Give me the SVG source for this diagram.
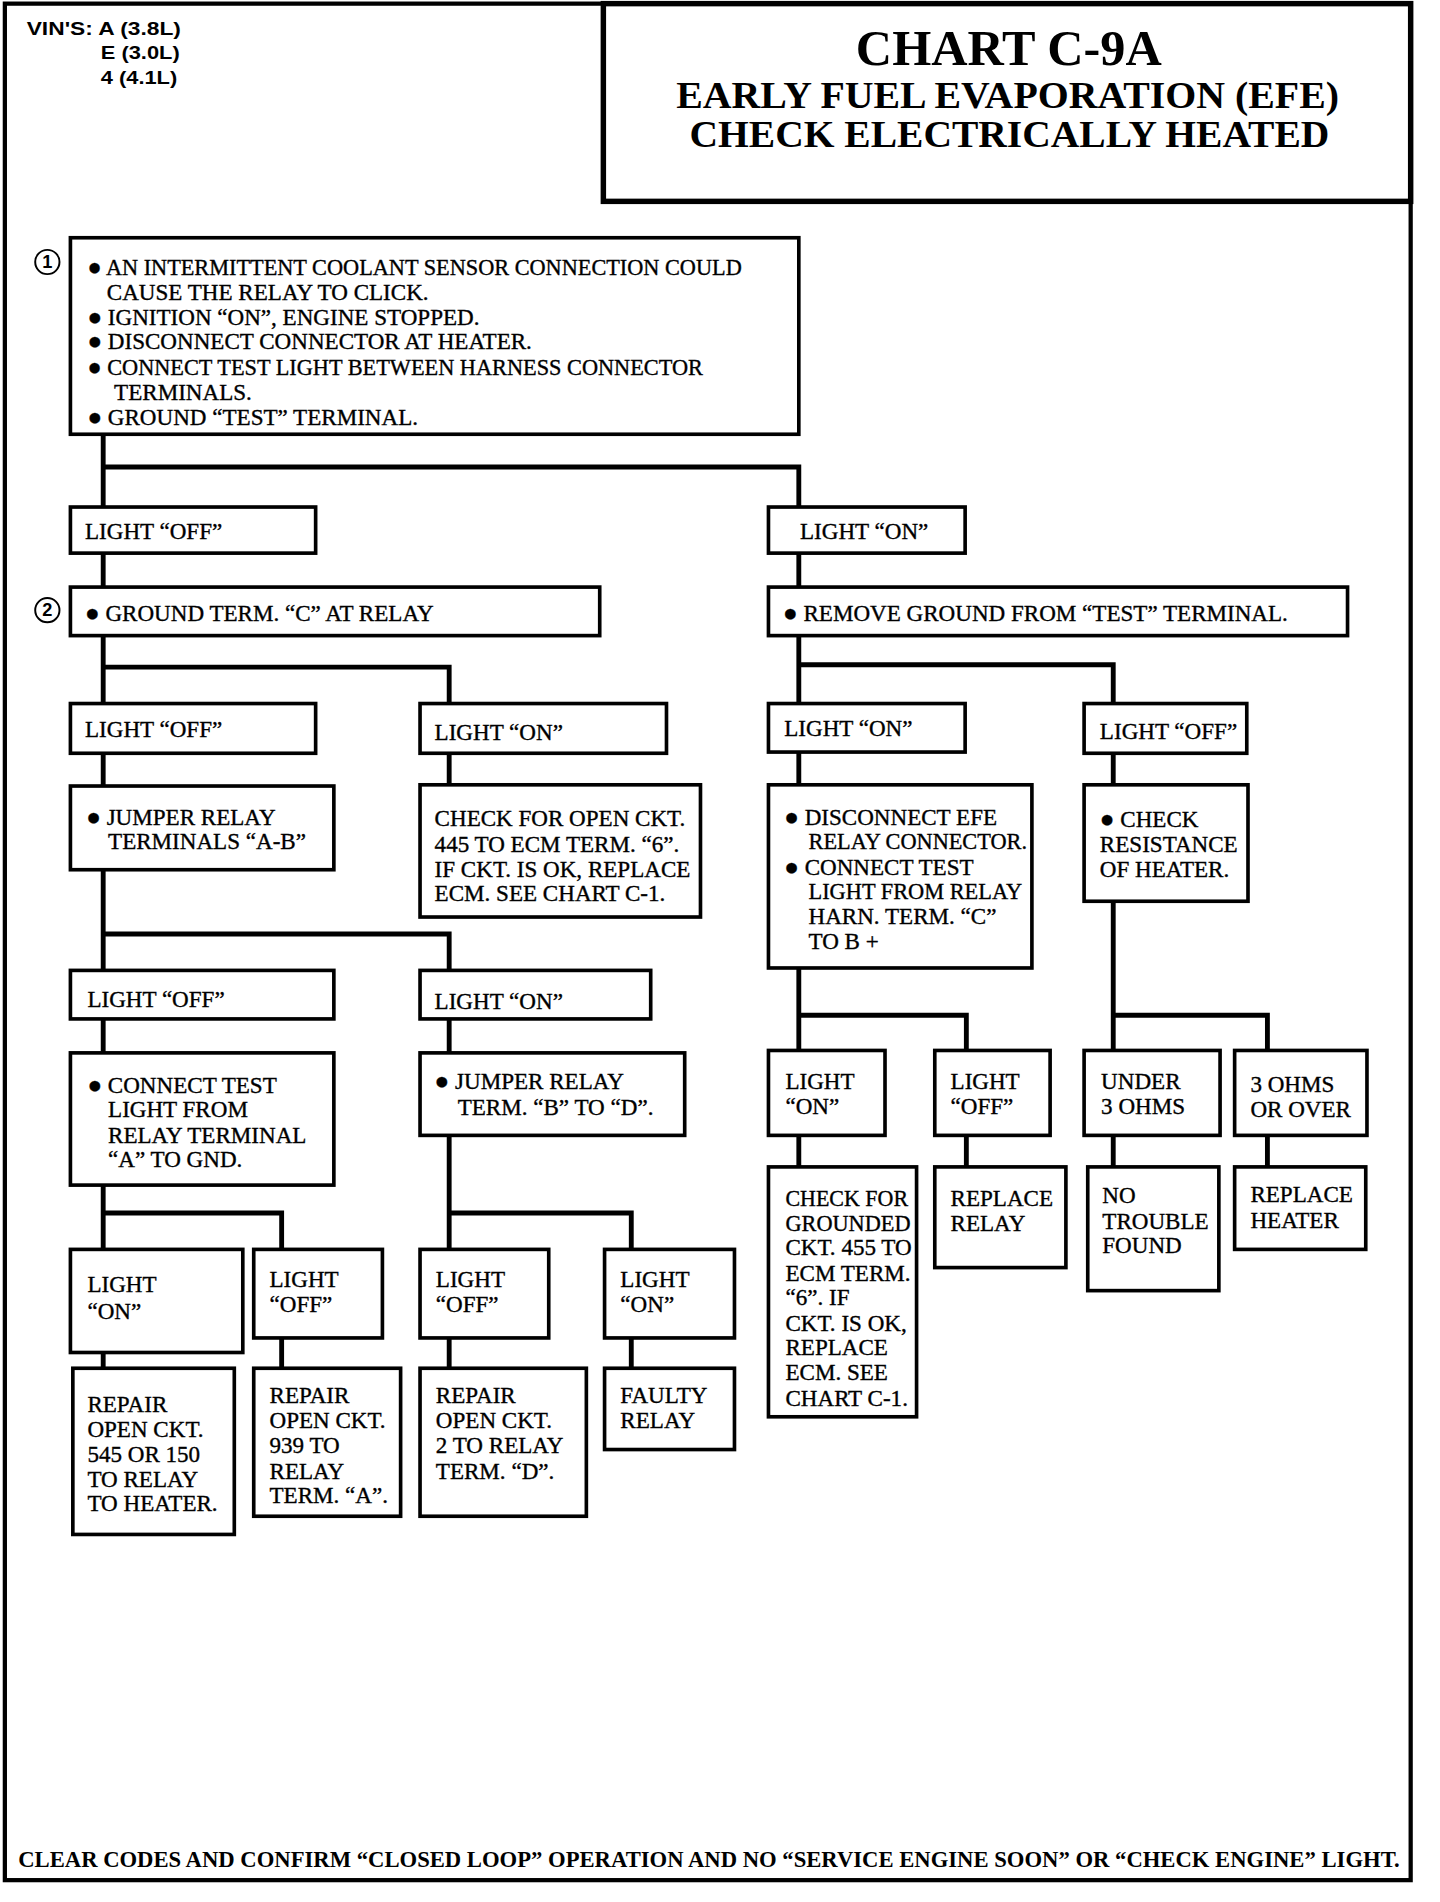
<svg xmlns="http://www.w3.org/2000/svg" width="1440" height="1902" viewBox="0 0 1440 1902">
<style>
.b{fill:#fff;stroke:#000;stroke-width:3}
.c{fill:none;stroke:#000;stroke-width:4;stroke-linecap:square}
.t{font-family:"Liberation Serif","Times New Roman",serif;font-size:19px;fill:#000;stroke:#000;stroke-width:0.3}
.d{font-size:20px}
.h{font-family:"Liberation Serif","Times New Roman",serif;font-weight:bold;fill:#000}
.v{font-family:"Liberation Sans",Arial,sans-serif;font-weight:bold;font-size:15px;fill:#000}
.n{fill:#fff;stroke:#000;stroke-width:1.6}
.nt{font-family:"Liberation Sans",Arial,sans-serif;font-weight:bold;font-size:15px;fill:#000;text-anchor:middle}
</style>
<rect width="1440" height="1902" fill="#fff"/>
<g transform="scale(1.214,1.213)">
<g id="frame">
<rect x="4" y="3" width="1158" height="1547" fill="none" stroke="#000" stroke-width="3.5"/>
</g>
<g id="vins">
<text class="v" x="22" y="29" textLength="127" lengthAdjust="spacingAndGlyphs">VIN'S: A (3.8L)</text>
<text class="v" x="83" y="49" textLength="65" lengthAdjust="spacingAndGlyphs">E (3.0L)</text>
<text class="v" x="83" y="69" textLength="63" lengthAdjust="spacingAndGlyphs">4 (4.1L)</text>
</g>
<g id="title">
<rect x="497" y="3" width="665" height="163" fill="none" stroke="#000" stroke-width="4.5"/>
<text class="h" x="705" y="54" font-size="42" textLength="252" lengthAdjust="spacingAndGlyphs">CHART C-9A</text>
<text class="h" x="557" y="89" font-size="31" textLength="546" lengthAdjust="spacingAndGlyphs">EARLY FUEL EVAPORATION (EFE)</text>
<text class="h" x="568" y="121" font-size="31" textLength="527" lengthAdjust="spacingAndGlyphs">CHECK ELECTRICALLY HEATED</text>
</g>
<g id="connectors">
<path class="c" d="M85,358V418M85,385H658V418M85,456V484M658,456V484M85,524V580M85,550H370V580M658,524V580M658,548H917V580M85,621V648M370,621V647M658,620V647M917,621V647M85,717V800M85,770H370V800M658,798V866M658,837H796V866M917,743V866M917,837H1044V866M85,840V868M370,840V868M658,936V962M796,936V962M917,936V962M1044,936V962M85,977V1030M85,1000H232V1030M370,936V1030M370,1000H520V1030M85,1115V1128M232,1103V1128M370,1103V1128M520,1103V1128"/>
</g>
<g id="step1">
<circle class="n" cx="39" cy="216" r="10"/>
<text class="nt" x="39" y="221">1</text>
</g>
<g id="step2">
<circle class="n" cx="39" cy="503" r="10"/>
<text class="nt" x="39" y="508">2</text>
</g>
<g id="n1">
<rect class="b" x="58" y="196" width="600" height="162"/>
<text class="t">
<tspan x="72" y="227" textLength="539" lengthAdjust="spacingAndGlyphs"><tspan class="d">●</tspan> AN INTERMITTENT COOLANT SENSOR CONNECTION COULD</tspan>
<tspan x="88" y="247">CAUSE THE RELAY TO CLICK.</tspan>
<tspan x="72" y="268"><tspan class="d">●</tspan> IGNITION “ON”, ENGINE STOPPED.</tspan>
<tspan x="72" y="288"><tspan class="d">●</tspan> DISCONNECT CONNECTOR AT HEATER.</tspan>
<tspan x="72" y="309" textLength="507" lengthAdjust="spacingAndGlyphs"><tspan class="d">●</tspan> CONNECT TEST LIGHT BETWEEN HARNESS CONNECTOR</tspan>
<tspan x="94" y="330">TERMINALS.</tspan>
<tspan x="72" y="350"><tspan class="d">●</tspan> GROUND “TEST” TERMINAL.</tspan>
</text>
</g>
<g id="n2"><rect class="b" x="58" y="418" width="202" height="38"/><text class="t" x="70" y="444">LIGHT “OFF”</text></g>
<g id="n3"><rect class="b" x="633" y="418" width="162" height="38"/><text class="t" x="659" y="444">LIGHT “ON”</text></g>
<g id="n4"><rect class="b" x="58" y="484" width="436" height="40"/><text class="t" x="70" y="512"><tspan class="d">●</tspan> GROUND TERM. “C” AT RELAY</text></g>
<g id="n5"><rect class="b" x="633" y="484" width="477" height="40"/><text class="t" x="645" y="512"><tspan class="d">●</tspan> REMOVE GROUND FROM “TEST” TERMINAL.</text></g>
<g id="n6"><rect class="b" x="58" y="580" width="202" height="41"/><text class="t" x="70" y="608">LIGHT “OFF”</text></g>
<g id="n7"><rect class="b" x="346" y="580" width="203" height="41"/><text class="t" x="358" y="610">LIGHT “ON”</text></g>
<g id="n8"><rect class="b" x="633" y="580" width="162" height="40"/><text class="t" x="646" y="607">LIGHT “ON”</text></g>
<g id="n9"><rect class="b" x="893" y="580" width="134" height="41"/><text class="t" x="906" y="609">LIGHT “OFF”</text></g>
<g id="n10"><rect class="b" x="58" y="648" width="217" height="69"/>
<text class="t"><tspan x="71" y="680"><tspan class="d">●</tspan> JUMPER RELAY</tspan><tspan x="89" y="700">TERMINALS “A-B”</tspan></text></g>
<g id="n11"><rect class="b" x="346" y="647" width="231" height="109"/>
<text class="t"><tspan x="358" y="681">CHECK FOR OPEN CKT.</tspan><tspan x="358" y="702">445 TO ECM TERM. “6”.</tspan><tspan x="358" y="723">IF CKT. IS OK, REPLACE</tspan><tspan x="358" y="743">ECM. SEE CHART C-1.</tspan></text></g>
<g id="n12"><rect class="b" x="633" y="647" width="217" height="151"/>
<text class="t"><tspan x="646" y="680"><tspan class="d">●</tspan> DISCONNECT EFE</tspan><tspan x="666" y="700" textLength="180" lengthAdjust="spacingAndGlyphs">RELAY CONNECTOR.</tspan><tspan x="646" y="721"><tspan class="d">●</tspan> CONNECT TEST</tspan><tspan x="666" y="741" textLength="176" lengthAdjust="spacingAndGlyphs">LIGHT FROM RELAY</tspan><tspan x="666" y="762">HARN. TERM. “C”</tspan><tspan x="666" y="782">TO B +</tspan></text></g>
<g id="n13"><rect class="b" x="893" y="647" width="135" height="96"/>
<text class="t"><tspan x="906" y="682"><tspan class="d">●</tspan> CHECK</tspan><tspan x="906" y="702">RESISTANCE</tspan><tspan x="906" y="723">OF HEATER.</tspan></text></g>
<g id="n14"><rect class="b" x="58" y="800" width="217" height="40"/><text class="t" x="72" y="830">LIGHT “OFF”</text></g>
<g id="n15"><rect class="b" x="346" y="800" width="190" height="40"/><text class="t" x="358" y="832">LIGHT “ON”</text></g>
<g id="n16"><rect class="b" x="633" y="866" width="96" height="70"/>
<text class="t"><tspan x="647" y="898">LIGHT</tspan><tspan x="647" y="918">“ON”</tspan></text></g>
<g id="n17"><rect class="b" x="770" y="866" width="95" height="70"/>
<text class="t"><tspan x="783" y="898">LIGHT</tspan><tspan x="783" y="918">“OFF”</tspan></text></g>
<g id="n18"><rect class="b" x="893" y="866" width="112" height="70"/>
<text class="t"><tspan x="907" y="898">UNDER</tspan><tspan x="907" y="918">3 OHMS</tspan></text></g>
<g id="n19"><rect class="b" x="1017" y="866" width="109" height="70"/>
<text class="t"><tspan x="1030" y="900">3 OHMS</tspan><tspan x="1030" y="921">OR OVER</tspan></text></g>
<g id="n20"><rect class="b" x="58" y="868" width="217" height="109"/>
<text class="t"><tspan x="72" y="901"><tspan class="d">●</tspan> CONNECT TEST</tspan><tspan x="89" y="921">LIGHT FROM</tspan><tspan x="89" y="942">RELAY TERMINAL</tspan><tspan x="89" y="962">“A” TO GND.</tspan></text></g>
<g id="n21"><rect class="b" x="346" y="868" width="218" height="68"/>
<text class="t"><tspan x="358" y="898"><tspan class="d">●</tspan> JUMPER RELAY</tspan><tspan x="377" y="919">TERM. “B” TO “D”.</tspan></text></g>
<g id="n22"><rect class="b" x="633" y="962" width="122" height="206"/>
<text class="t"><tspan x="647" y="994" textLength="101" lengthAdjust="spacingAndGlyphs">CHECK FOR</tspan><tspan x="647" y="1015" textLength="103" lengthAdjust="spacingAndGlyphs">GROUNDED</tspan><tspan x="647" y="1035" textLength="104" lengthAdjust="spacingAndGlyphs">CKT. 455 TO</tspan><tspan x="647" y="1056">ECM TERM.</tspan><tspan x="647" y="1076">“6”. IF</tspan><tspan x="647" y="1097">CKT. IS OK,</tspan><tspan x="647" y="1117">REPLACE</tspan><tspan x="647" y="1138">ECM. SEE</tspan><tspan x="647" y="1159">CHART C-1.</tspan></text></g>
<g id="n23"><rect class="b" x="770" y="962" width="108" height="83"/>
<text class="t"><tspan x="783" y="994">REPLACE</tspan><tspan x="783" y="1015">RELAY</tspan></text></g>
<g id="n24"><rect class="b" x="896" y="962" width="108" height="102"/>
<text class="t"><tspan x="908" y="992">NO</tspan><tspan x="908" y="1013">TROUBLE</tspan><tspan x="908" y="1033">FOUND</tspan></text></g>
<g id="n25"><rect class="b" x="1017" y="962" width="108" height="68"/>
<text class="t"><tspan x="1030" y="991">REPLACE</tspan><tspan x="1030" y="1012">HEATER</tspan></text></g>
<g id="n26"><rect class="b" x="58" y="1030" width="142" height="85"/>
<text class="t"><tspan x="72" y="1065">LIGHT</tspan><tspan x="72" y="1087">“ON”</tspan></text></g>
<g id="n27"><rect class="b" x="209" y="1030" width="106" height="73"/>
<text class="t"><tspan x="222" y="1061">LIGHT</tspan><tspan x="222" y="1082">“OFF”</tspan></text></g>
<g id="n28"><rect class="b" x="346" y="1030" width="106" height="73"/>
<text class="t"><tspan x="359" y="1061">LIGHT</tspan><tspan x="359" y="1082">“OFF”</tspan></text></g>
<g id="n29"><rect class="b" x="498" y="1030" width="107" height="73"/>
<text class="t"><tspan x="511" y="1061">LIGHT</tspan><tspan x="511" y="1082">“ON”</tspan></text></g>
<g id="n30"><rect class="b" x="60" y="1128" width="133" height="137"/>
<text class="t"><tspan x="72" y="1164">REPAIR</tspan><tspan x="72" y="1185">OPEN CKT.</tspan><tspan x="72" y="1205">545 OR 150</tspan><tspan x="72" y="1226">TO RELAY</tspan><tspan x="72" y="1246">TO HEATER.</tspan></text></g>
<g id="n31"><rect class="b" x="209" y="1128" width="121" height="122"/>
<text class="t"><tspan x="222" y="1157">REPAIR</tspan><tspan x="222" y="1177">OPEN CKT.</tspan><tspan x="222" y="1198">939 TO</tspan><tspan x="222" y="1219">RELAY</tspan><tspan x="222" y="1239">TERM. “A”.</tspan></text></g>
<g id="n32"><rect class="b" x="346" y="1128" width="137" height="122"/>
<text class="t"><tspan x="359" y="1157">REPAIR</tspan><tspan x="359" y="1177">OPEN CKT.</tspan><tspan x="359" y="1198">2 TO RELAY</tspan><tspan x="359" y="1219">TERM. “D”.</tspan></text></g>
<g id="n33"><rect class="b" x="498" y="1128" width="107" height="67"/>
<text class="t"><tspan x="511" y="1157">FAULTY</tspan><tspan x="511" y="1177">RELAY</tspan></text></g>
<g id="footer">
<text class="h" x="15" y="1539" font-size="18.5" textLength="1138" lengthAdjust="spacingAndGlyphs">CLEAR CODES AND CONFIRM “CLOSED LOOP” OPERATION AND NO “SERVICE ENGINE SOON” OR “CHECK ENGINE” LIGHT.</text>
</g>
</g>
</svg>
